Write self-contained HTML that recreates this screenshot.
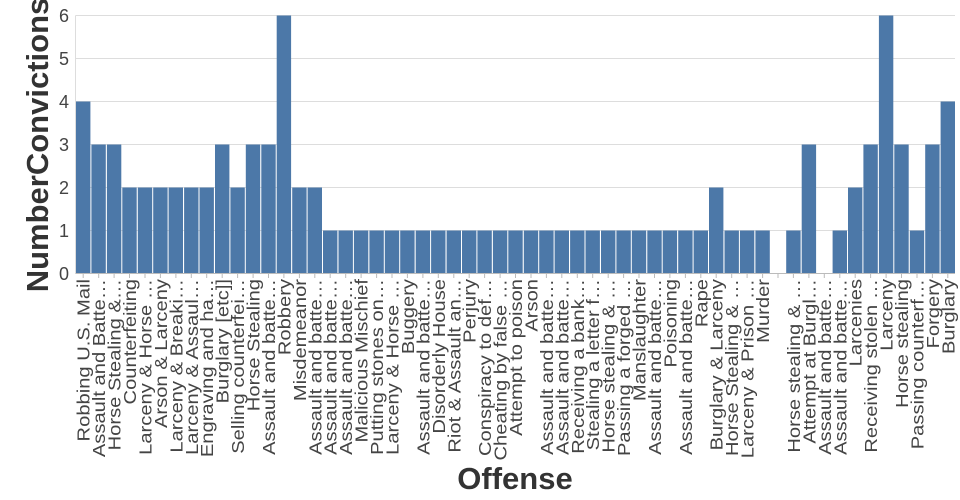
<!DOCTYPE html>
<html><head><meta charset="utf-8"><style>
html,body{margin:0;padding:0;background:#fff;}
svg{display:block;font-family:"Liberation Sans",sans-serif;}
.g{stroke:#ddd;stroke-width:1;}
.b{fill:#4c78a8;}
.l text{font-size:18px;fill:#444;text-anchor:end;}
.yt{font-size:18px;fill:#444;text-anchor:end;}
</style></head><body>
<svg width="960" height="500" viewBox="0 0 960 500">
<g class="g">
<line x1="75.5" x2="955" y1="15.5" y2="15.5"/>
<line x1="75.5" x2="955" y1="58.5" y2="58.5"/>
<line x1="75.5" x2="955" y1="101.5" y2="101.5"/>
<line x1="75.5" x2="955" y1="144.5" y2="144.5"/>
<line x1="75.5" x2="955" y1="187.5" y2="187.5"/>
<line x1="75.5" x2="955" y1="230.5" y2="230.5"/>
<line x1="75.5" x2="75.5" y1="15.5" y2="273.5"/>
</g>
<g class="yt">
<text x="69" y="22">6</text><text x="69" y="65">5</text><text x="69" y="108">4</text>
<text x="69" y="151">3</text><text x="69" y="194">2</text><text x="69" y="237">1</text><text x="69" y="280">0</text>
</g>
<g class="b">
<rect x="76" y="101.5" width="14.4" height="172"/>
<rect x="91.4" y="144.5" width="14.4" height="129"/>
<rect x="106.9" y="144.5" width="14.4" height="129"/>
<rect x="122.3" y="187.5" width="14.4" height="86"/>
<rect x="137.8" y="187.5" width="14.4" height="86"/>
<rect x="153.2" y="187.5" width="14.4" height="86"/>
<rect x="168.6" y="187.5" width="14.4" height="86"/>
<rect x="184.1" y="187.5" width="14.4" height="86"/>
<rect x="199.5" y="187.5" width="14.4" height="86"/>
<rect x="215.0" y="144.5" width="14.4" height="129"/>
<rect x="230.4" y="187.5" width="14.4" height="86"/>
<rect x="245.8" y="144.5" width="14.4" height="129"/>
<rect x="261.3" y="144.5" width="14.4" height="129"/>
<rect x="276.7" y="15.5" width="14.4" height="258"/>
<rect x="292.2" y="187.5" width="14.4" height="86"/>
<rect x="307.6" y="187.5" width="14.4" height="86"/>
<rect x="323.0" y="230.5" width="14.4" height="43"/>
<rect x="338.5" y="230.5" width="14.4" height="43"/>
<rect x="353.9" y="230.5" width="14.4" height="43"/>
<rect x="369.4" y="230.5" width="14.4" height="43"/>
<rect x="384.8" y="230.5" width="14.4" height="43"/>
<rect x="400.2" y="230.5" width="14.4" height="43"/>
<rect x="415.7" y="230.5" width="14.4" height="43"/>
<rect x="431.1" y="230.5" width="14.4" height="43"/>
<rect x="446.6" y="230.5" width="14.4" height="43"/>
<rect x="462.0" y="230.5" width="14.4" height="43"/>
<rect x="477.4" y="230.5" width="14.4" height="43"/>
<rect x="492.9" y="230.5" width="14.4" height="43"/>
<rect x="508.3" y="230.5" width="14.4" height="43"/>
<rect x="523.8" y="230.5" width="14.4" height="43"/>
<rect x="539.2" y="230.5" width="14.4" height="43"/>
<rect x="554.6" y="230.5" width="14.4" height="43"/>
<rect x="570.1" y="230.5" width="14.4" height="43"/>
<rect x="585.5" y="230.5" width="14.4" height="43"/>
<rect x="601.0" y="230.5" width="14.4" height="43"/>
<rect x="616.4" y="230.5" width="14.4" height="43"/>
<rect x="631.8" y="230.5" width="14.4" height="43"/>
<rect x="647.3" y="230.5" width="14.4" height="43"/>
<rect x="662.7" y="230.5" width="14.4" height="43"/>
<rect x="678.2" y="230.5" width="14.4" height="43"/>
<rect x="693.6" y="230.5" width="14.4" height="43"/>
<rect x="709.0" y="187.5" width="14.4" height="86"/>
<rect x="724.5" y="230.5" width="14.4" height="43"/>
<rect x="739.9" y="230.5" width="14.4" height="43"/>
<rect x="755.4" y="230.5" width="14.4" height="43"/>
<rect x="786.2" y="230.5" width="14.4" height="43"/>
<rect x="801.7" y="144.5" width="14.4" height="129"/>
<rect x="832.6" y="230.5" width="14.4" height="43"/>
<rect x="848.0" y="187.5" width="14.4" height="86"/>
<rect x="863.4" y="144.5" width="14.4" height="129"/>
<rect x="878.9" y="15.5" width="14.4" height="258"/>
<rect x="894.3" y="144.5" width="14.4" height="129"/>
<rect x="909.8" y="230.5" width="14.4" height="43"/>
<rect x="925.2" y="144.5" width="14.4" height="129"/>
<rect x="940.6" y="101.5" width="14.4" height="172"/>
</g>
<line x1="75.5" x2="955" y1="273.5" y2="273.5" stroke="#bbb"/>
<path stroke="#bbb" stroke-width="1" d="M83.2 273v5M98.7 273v5M114.1 273v5M129.5 273v5M145 273v5M160.4 273v5M175.9 273v5M191.3 273v5M206.7 273v5M222.2 273v5M237.6 273v5M253.1 273v5M268.5 273v5M283.9 273v5M299.4 273v5M314.8 273v5M330.2 273v5M345.7 273v5M361.1 273v5M376.6 273v5M392 273v5M407.4 273v5M422.9 273v5M438.3 273v5M453.8 273v5M469.2 273v5M484.6 273v5M500.1 273v5M515.5 273v5M531 273v5M546.4 273v5M561.8 273v5M577.3 273v5M592.7 273v5M608.2 273v5M623.6 273v5M639 273v5M654.5 273v5M669.9 273v5M685.4 273v5M700.8 273v5M716.2 273v5M731.7 273v5M747.1 273v5M762.6 273v5M778 273v5M793.4 273v5M808.9 273v5M824.3 273v5M839.8 273v5M855.2 273v5M870.6 273v5M886.1 273v5M901.5 273v5M917 273v5M932.4 273v5M947.8 273v5"/>
<g class="l" transform="rotate(-90) scale(1.12,1)">
<text x="-249.1" y="89.7">Robbing U.S. Mail</text>
<text x="-249.1" y="105.2">Assault and Batte…</text>
<text x="-249.1" y="120.6">Horse Stealing &amp;…</text>
<text x="-249.1" y="136.0">Counterfeiting</text>
<text x="-249.1" y="151.5">Larceny &amp; Horse …</text>
<text x="-249.1" y="166.9">Arson &amp; Larceny</text>
<text x="-249.1" y="182.4">Larceny &amp; Breaki…</text>
<text x="-249.1" y="197.8">Larceny &amp; Assaul…</text>
<text x="-249.1" y="213.2">Engraving and ha…</text>
<text x="-249.1" y="228.7">Burglary [etc]]</text>
<text x="-249.1" y="244.1">Selling counterfei…</text>
<text x="-249.1" y="259.6">Horse Stealing</text>
<text x="-249.1" y="275.0">Assault and batte…</text>
<text x="-249.1" y="290.4">Robbery</text>
<text x="-249.1" y="305.9">Misdemeanor</text>
<text x="-249.1" y="321.3">Assault and batte…</text>
<text x="-249.1" y="336.7">Assault and batte…</text>
<text x="-249.1" y="352.2">Assault and batte…</text>
<text x="-249.1" y="367.6">Malicious Mischief</text>
<text x="-249.1" y="383.1">Putting stones on…</text>
<text x="-249.1" y="398.5">Larceny &amp; Horse …</text>
<text x="-249.1" y="413.9">Buggery</text>
<text x="-249.1" y="429.4">Assault and batte…</text>
<text x="-249.1" y="444.8">Disorderly House</text>
<text x="-249.1" y="460.3">Riot &amp; Assault an…</text>
<text x="-249.1" y="475.7">Perjury</text>
<text x="-249.1" y="491.1">Conspiracy to def…</text>
<text x="-249.1" y="506.6">Cheating by false …</text>
<text x="-249.1" y="522.0">Attempt to poison</text>
<text x="-249.1" y="537.5">Arson</text>
<text x="-249.1" y="552.9">Assault and batte…</text>
<text x="-249.1" y="568.3">Assault and batte…</text>
<text x="-249.1" y="583.8">Receiving a bank…</text>
<text x="-249.1" y="599.2">Stealing a letter f…</text>
<text x="-249.1" y="614.7">Horse stealing &amp; …</text>
<text x="-249.1" y="630.1">Passing a forged …</text>
<text x="-249.1" y="645.5">Manslaughter</text>
<text x="-249.1" y="661.0">Assault and batte…</text>
<text x="-249.1" y="676.4">Poisoning</text>
<text x="-249.1" y="691.9">Assault and batte…</text>
<text x="-249.1" y="707.3">Rape</text>
<text x="-249.1" y="722.7">Burglary &amp; Larceny</text>
<text x="-249.1" y="738.2">Horse Stealing &amp; …</text>
<text x="-249.1" y="753.6">Larceny &amp; Prison …</text>
<text x="-249.1" y="769.1">Murder</text>
<text x="-249.1" y="799.9">Horse stealing &amp; …</text>
<text x="-249.1" y="815.4">Attempt at Burgl…</text>
<text x="-249.1" y="830.8">Assault and batte…</text>
<text x="-249.1" y="846.3">Assault and batte…</text>
<text x="-249.1" y="861.7">Larcenies</text>
<text x="-249.1" y="877.1">Receiving stolen …</text>
<text x="-249.1" y="892.6">Larceny</text>
<text x="-249.1" y="908.0">Horse stealing</text>
<text x="-249.1" y="923.5">Passing counterf…</text>
<text x="-249.1" y="938.9">Forgery</text>
<text x="-249.1" y="954.3">Burglary</text>
</g>
<text transform="translate(48,145) rotate(-90)" text-anchor="middle" font-size="31" font-weight="bold" fill="#333">NumberConvictions</text>
<text x="515" y="489" text-anchor="middle" font-size="31" font-weight="bold" fill="#333">Offense</text>
</svg>
</body></html>
